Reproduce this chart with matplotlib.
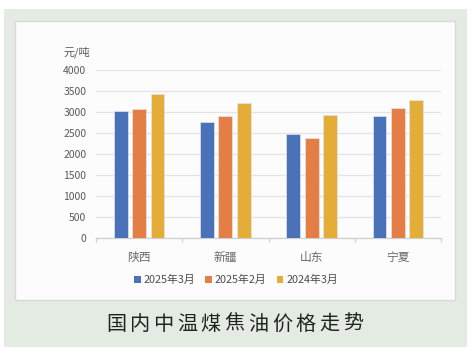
import matplotlib
matplotlib.use("Agg")
import matplotlib.pyplot as plt
from matplotlib.patches import Rectangle
import numpy as np

plt.rcParams['font.family'] = ['Noto Sans CJK SC', 'DejaVu Sans']

# data
regions = ['陕西', '新疆', '山东', '宁夏']
series_names = ['2025年3月', '2025年2月', '2024年3月']
mar_2025 = [3020, 2760, 2490, 2920]
feb_2025 = [3070, 2920, 2400, 3110]
mar_2024 = [3440, 3220, 2940, 3300]
y_ticks = [0, 500, 1000, 1500, 2000, 2500, 3000, 3500, 4000]
unit_label = '元/吨'
title = '国内中温煤焦油价格走势'

colors = ['#4a72b8', '#e47e44', '#e4ad37']

W, H = 473, 354
fig = plt.figure(figsize=(W / 100, H / 100), dpi=100)
fig.patch.set_facecolor('white')

# green outer panel and white inner card
fig.add_artist(Rectangle((4 / W, 1 - 347 / H), 463 / W, 338 / H, transform=fig.transFigure,
                         facecolor='#e3ebe2', edgecolor='none', zorder=-3))
fig.add_artist(Rectangle((15 / W, 1 - 300 / H), 440 / W, 279 / H, transform=fig.transFigure,
                         facecolor='#fcfcfc', edgecolor='#d9d9d9', linewidth=1, zorder=-2))

ax = fig.add_axes([96 / W, 1 - 238.3 / H, 345 / W, 168 / H])
ax.set_facecolor('none')

x = np.arange(len(regions))
width = 0.162
step = 0.213
for i, (vals, name) in enumerate(zip([mar_2025, feb_2025, mar_2024], series_names)):
    ax.bar(x + (i - 1) * step, vals, width, color=colors[i], label=name,
           edgecolor='#dfe6f0', linewidth=0.5, zorder=3)

ax.set_xlim(-0.5, len(regions) - 0.5)
ax.set_ylim(0, 4000)
ax.set_yticks(y_ticks)
ax.set_yticklabels([str(v) for v in y_ticks], fontsize=7.5, color='#595959')
ax.yaxis.grid(True, color='#e4e4e4', linewidth=0.9, zorder=0)
ax.tick_params(axis='y', length=0, pad=7)

ax.set_xticks(x)
ax.set_xticklabels(regions, fontsize=8.5, color='#6a6a6a')
ax.set_xticks(np.arange(-0.5, len(regions), 1), minor=True)
ax.tick_params(axis='x', which='major', length=0, pad=9)
ax.tick_params(axis='x', which='minor', length=3, color='#d0d0d0', width=0.9)

for s in ['top', 'right', 'left']:
    ax.spines[s].set_visible(False)
ax.spines['bottom'].set_color('#d0d0d0')
ax.spines['bottom'].set_linewidth(0.9)

fig.text(63 / W, 1 - 52 / H, unit_label, fontsize=8, color='#595959', va='center', ha='left')

leg = fig.legend(loc='center', bbox_to_anchor=(236 / W, 1 - 280 / H), ncol=3, frameon=False,
                 fontsize=7.8, handlelength=0.6, handleheight=0.6, handletextpad=0.3,
                 columnspacing=0.9, labelcolor='#4d4d4d')
for h in leg.legend_handles:
    h.set_edgecolor('none')

# title with wide letter spacing
pitch = (353 - 116) / (len(title) - 1)
for k, ch in enumerate(title):
    fig.text((116 + k * pitch) / W, 1 - 324 / H, ch, fontsize=14.5, color='#222222',
             ha='center', va='center', fontweight='medium')

fig.savefig('out.png', dpi=100)
